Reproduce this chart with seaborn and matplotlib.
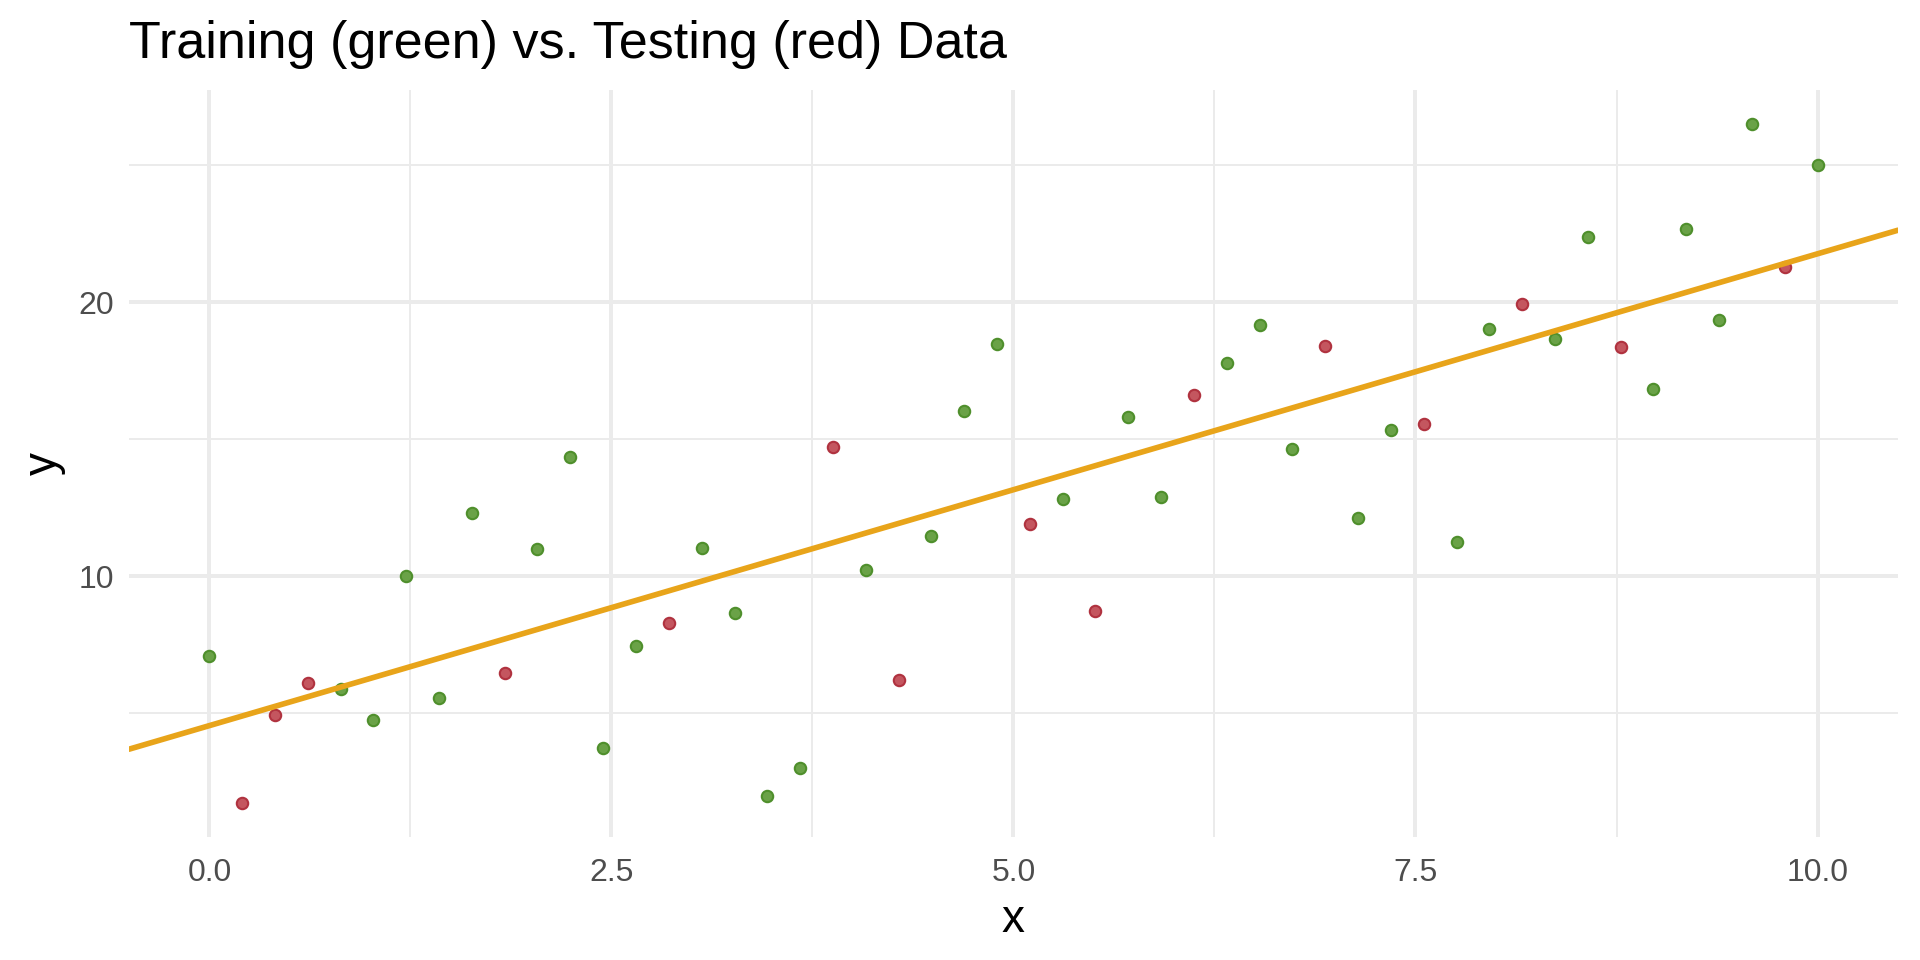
import matplotlib.pyplot as plt
from matplotlib.ticker import MultipleLocator, FormatStrFormatter
import seaborn as sns
import pandas as pd

# x positions of the 50 observations
x_vals = [0.00, 0.20, 0.41, 0.61, 0.82, 1.02, 1.22, 1.43, 1.63, 1.84,
          2.04, 2.24, 2.45, 2.65, 2.86, 3.06, 3.27, 3.47, 3.67, 3.88,
          4.08, 4.29, 4.49, 4.69, 4.90, 5.10, 5.31, 5.51, 5.71, 5.92,
          6.12, 6.33, 6.53, 6.73, 6.94, 7.14, 7.35, 7.55, 7.76, 7.96,
          8.16, 8.37, 8.57, 8.78, 8.98, 9.18, 9.39, 9.59, 9.80, 10.00]
y_vals = [7.10, 1.72, 4.92, 6.12, 5.87, 4.74, 10.00, 5.57, 12.31, 6.48,
          11.00, 14.35, 3.75, 7.47, 8.31, 11.04, 8.67, 1.97, 3.02, 14.72,
          10.24, 6.23, 11.48, 16.03, 18.47, 11.91, 12.82, 8.74, 15.81, 12.90,
          16.61, 17.78, 19.16, 14.64, 18.40, 12.13, 15.34, 15.56, 11.26, 19.02,
          19.93, 18.65, 22.40, 18.36, 16.83, 22.67, 19.34, 26.50, 21.28, 25.00]
split = ["train", "test", "test", "test", "train", "train", "train", "train", "train", "test",
         "train", "train", "train", "train", "test", "train", "train", "train", "train", "test",
         "train", "test", "train", "train", "train", "test", "train", "test", "train", "train",
         "test", "train", "train", "train", "test", "train", "train", "test", "train", "train",
         "test", "train", "train", "test", "train", "train", "train", "train", "test", "train"]

# fitted regression line
fit_intercept = 4.55
fit_slope = 1.722

df = pd.DataFrame({"x": x_vals, "y": y_vals, "set": split})

sns.set_theme(style="whitegrid")
plt.rcParams["font.family"] = ["Liberation Sans", "DejaVu Sans"]

fig = plt.figure(figsize=(6.4, 3.2), dpi=300)
ax = fig.add_axes([0.0672, 0.128, 0.9213, 0.778])

styles = {
    "train": dict(color="#6AA247", edgecolor="#4F8F2C"),
    "test": dict(color="#C4565F", edgecolor="#B0323F"),
}
for name in ["train", "test"]:
    sns.scatterplot(
        data=df[df.set == name], x="x", y="y",
        s=7.5, linewidth=0.5, ax=ax, zorder=3, **styles[name]
    )

ax.axline((0, fit_intercept), slope=fit_slope, color="#E8A41A", lw=1.35, zorder=4)

ax.set_xlim(-0.5, 10.5)
ax.set_ylim(0.48, 27.74)

ax.xaxis.set_major_locator(MultipleLocator(2.5))
ax.xaxis.set_minor_locator(MultipleLocator(1.25))
ax.xaxis.set_major_formatter(FormatStrFormatter("%.1f"))
ax.yaxis.set_major_locator(MultipleLocator(10))
ax.yaxis.set_minor_locator(MultipleLocator(5))

ax.grid(which="major", color="#EBEBEB", lw=0.96)
ax.grid(which="minor", color="#EBEBEB", lw=0.48)
ax.set_axisbelow(True)
for s in ax.spines.values():
    s.set_visible(False)

ax.tick_params(which="both", length=0, labelsize=7.7, labelcolor="#4D4D4D")
ax.tick_params(axis="x", pad=5)
ax.tick_params(axis="y", pad=3.5)

ax.set_xlabel("x", fontsize=11, color="black", labelpad=2.5)
ax.set_ylabel("y", fontsize=11, color="black", labelpad=3)
ax.set_title("Training (green) vs. Testing (red) Data", loc="left",
             fontsize=12.5, color="black", pad=7.8)

fig.savefig("out.png", dpi=300)
